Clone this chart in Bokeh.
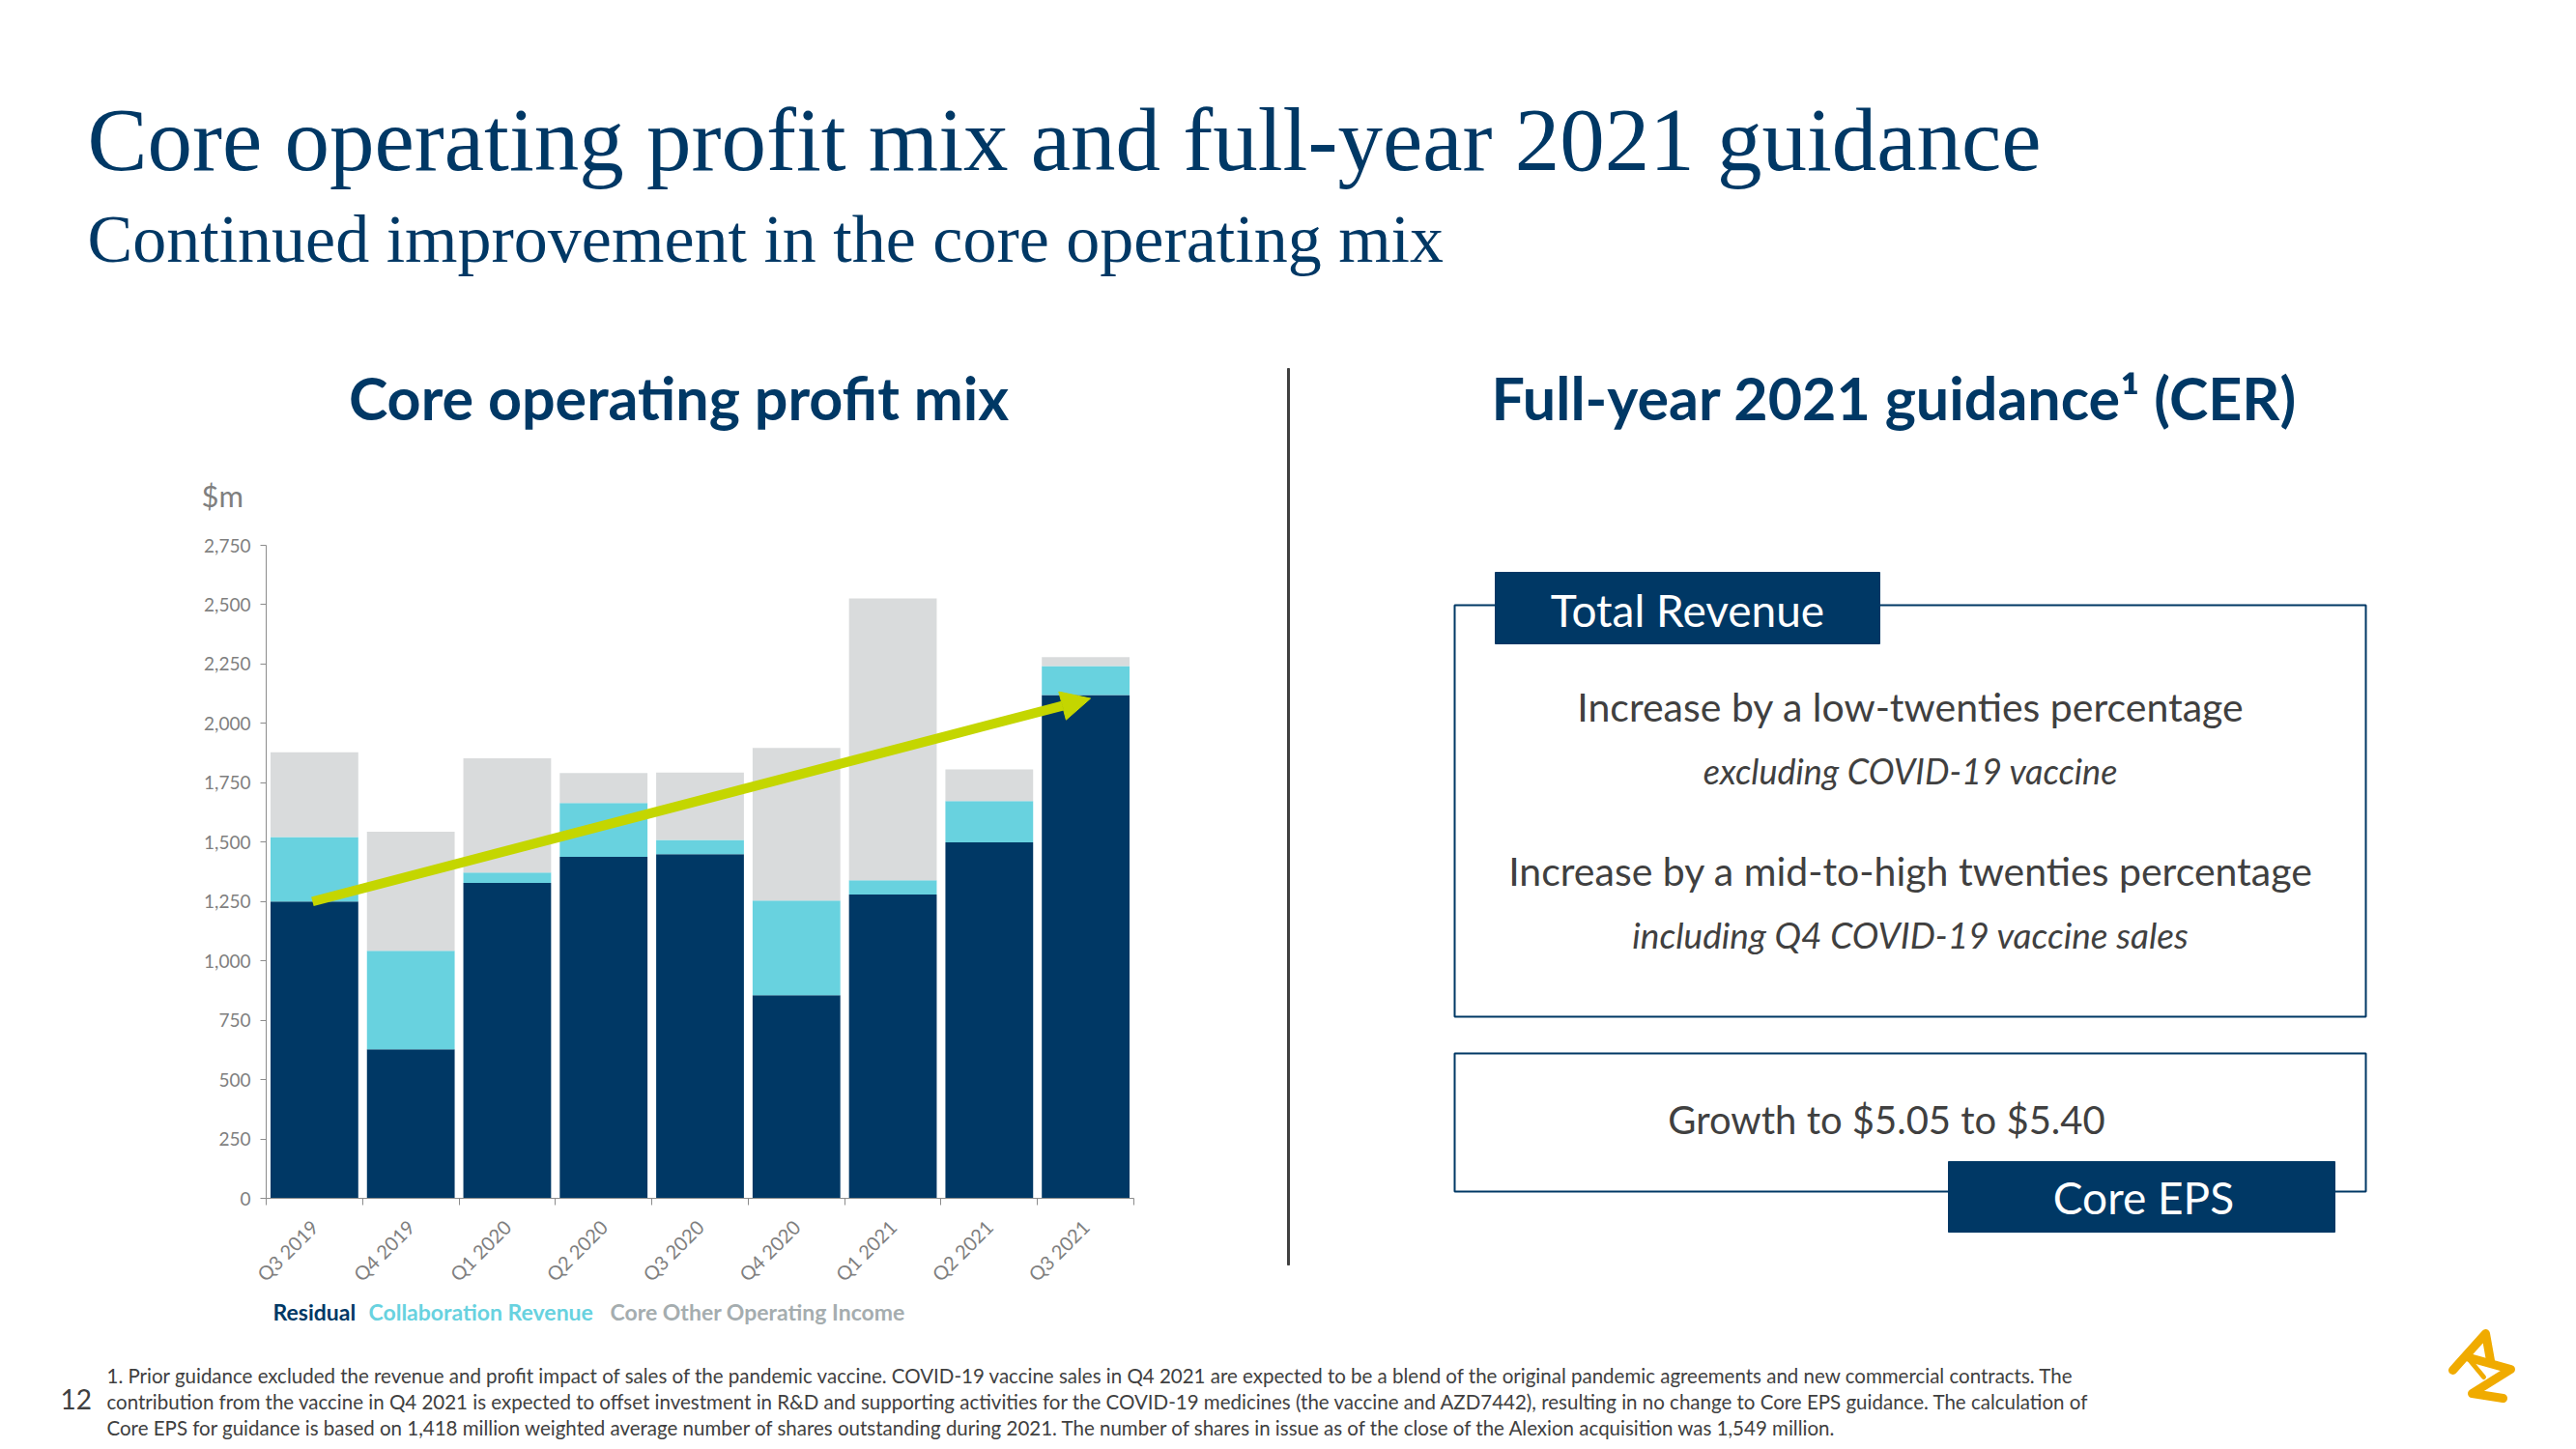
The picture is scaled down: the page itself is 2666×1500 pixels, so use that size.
import math
from bokeh.plotting import figure
from bokeh.models import (Range1d, FixedTicker, NumeralTickFormatter, Arrow, NormalHead,
                          ColumnDataSource, LinearAxis)
from bokeh.core.properties import value
from bokeh.embed import file_html
from bokeh.resources import INLINE

# ---------------- data ----------------
quarters = ["Q3 2019", "Q4 2019", "Q1 2020", "Q2 2020", "Q3 2020",
            "Q4 2020", "Q1 2021", "Q2 2021", "Q3 2021"]
residual = [1250, 627, 1328, 1438, 1449, 855, 1279, 1499, 2119]
collaboration_revenue = [271, 415, 44, 227, 60, 399, 60, 174, 123]
core_other_operating_income = [357, 502, 481, 126, 284, 643, 1187, 133, 37]
series_names = ["Residual", "Collaboration Revenue", "Core Other Operating Income"]
y_ticks = [0, 250, 500, 750, 1000, 1250, 1500, 1750, 2000, 2250, 2500, 2750]
Y_MAX = 2750
# trend arrow (start / end in chart units)
trend_start = (0.48, 1250)
trend_end = (8.55, 2105)

NAVY = "#003865"
CYAN = "#68D2DF"
LGRAY = "#D9DBDC"
LIME = "#C4D600"
AXGRAY = "#8C8C8C"
TXT = "#404040"
GOLD = "#F0AB00"

W, H = 2666, 1500
L, R, T, B = 275, 1173, 564, 1240   # chart plotting area on the page (pixels)
N = len(quarters)

# ranges chosen so that the chart area lands at L..R / T..B while the frame fills the page
x0 = -L * N / (R - L)
x1 = N + (W - R) * N / (R - L)
y0 = -(H - B) * Y_MAX / (B - T)
y1 = Y_MAX + T * Y_MAX / (B - T)

p = figure(width=W, height=H, x_range=Range1d(x0, x1), y_range=Range1d(y0, y1),
           output_backend="svg", toolbar_location=None, min_border=0,
           x_axis_location=None, y_axis_location=None)
p.outline_line_color = None
p.grid.visible = False
p.background_fill_color = "white"
p.border_fill_color = "white"
p.extra_x_ranges = {"pg": Range1d(0, W)}
p.extra_y_ranges = {"pg": Range1d(H, 0)}

centers = [i + 0.5 for i in range(N)]
src = ColumnDataSource(dict(x=centers, residual=residual, collab=collaboration_revenue,
                            other=core_other_operating_income))
p.vbar_stack(["residual", "collab", "other"], x="x", width=0.91, source=src,
             color=[NAVY, CYAN, LGRAY], line_color=None)

xa = LinearAxis(fixed_location=0, bounds=(0, N))
xa.ticker = FixedTicker(ticks=centers, minor_ticks=list(range(N + 1)))
xa.major_label_overrides = {c: q for c, q in zip(centers, quarters)}
xa.major_label_orientation = math.pi / 4
xa.major_tick_line_color = None
xa.minor_tick_line_color = AXGRAY
xa.minor_tick_in = 0
xa.minor_tick_out = 7
xa.axis_line_color = AXGRAY
xa.major_label_text_color = "#7F7F7F"
xa.major_label_text_font = "Lato"
xa.major_label_text_font_size = "20px"
xa.major_label_standoff = 19
p.add_layout(xa, "below")

ya = LinearAxis(fixed_location=0, bounds=(0, Y_MAX))
ya.ticker = FixedTicker(ticks=y_ticks)
ya.formatter = NumeralTickFormatter(format="0,0")
ya.axis_line_color = AXGRAY
ya.major_tick_line_color = AXGRAY
ya.major_tick_in = 0
ya.major_tick_out = 6
ya.minor_tick_line_color = None
ya.major_label_text_color = "#7F7F7F"
ya.major_label_text_font = "Lato"
ya.major_label_text_font_size = "19px"
ya.major_label_standoff = 10
p.add_layout(ya, "left")

p.add_layout(Arrow(x_start=trend_start[0], y_start=trend_start[1],
                   x_end=trend_end[0], y_end=trend_end[1],
                   line_color=LIME, line_width=10,
                   end=NormalHead(fill_color=LIME, line_color=LIME, line_width=1, size=30)))

PG = dict(x_range_name="pg", y_range_name="pg")


def txt(x, y, s, size, color, font="Lato", style="normal", align="left", baseline="middle"):
    p.text(x=[x], y=[y], text=[s], text_font=value(font), text_font_size=value(f"{size}px"),
           text_color=color, text_font_style=style, text_align=align, text_baseline=baseline, **PG)


# ---------------- header ----------------
txt(90, 144, "Core operating profit mix and full-year 2021 guidance", 93, NAVY, font="Liberation Serif")
txt(90, 247, "Continued improvement in the core operating mix", 70, NAVY, font="Liberation Serif")
txt(702, 411, "Core operating profit mix", 61, NAVY, style="bold", align="center")
txt(1960, 411, "Full-year 2021 guidance\u00b9 (CER)", 61, NAVY, style="bold", align="center")
txt(208, 512, "$m", 31, "#7F7F7F")

# divider
p.quad(left=[1332], right=[1334], top=[381], bottom=[1309], color="#404040", **PG)

# ---------------- right panel ----------------
p.quad(left=[1505], right=[2448], top=[626], bottom=[1052], fill_color=None, line_color=NAVY,
       line_width=2, **PG)
p.quad(left=[1547], right=[1945], top=[592], bottom=[666], color=NAVY, **PG)
txt(1746, 631, "Total Revenue", 46, "white", align="center")
txt(1977, 731, "Increase by a low-twenties percentage", 41, TXT, align="center")
txt(1977, 797, "excluding COVID-19 vaccine", 36, TXT, style="italic", align="center")
txt(1977, 901, "Increase by a mid-to-high twenties percentage", 41, TXT, align="center")
txt(1977, 967, "including Q4 COVID-19 vaccine sales", 37, TXT, style="italic", align="center")
p.quad(left=[1505], right=[2448], top=[1090], bottom=[1233], fill_color=None, line_color=NAVY,
       line_width=2, **PG)
p.quad(left=[2016], right=[2416], top=[1202], bottom=[1275], color=NAVY, **PG)
txt(1952, 1158, "Growth to $5.05 to $5.40", 40, TXT, align="center")
txt(2218, 1239, "Core EPS", 46, "white", align="center")

# ---------------- legend (text only) ----------------
txt(282, 1357, series_names[0], 23, NAVY, style="bold")
txt(381, 1357, series_names[1], 23, CYAN, style="bold")
txt(631, 1357, series_names[2], 23, "#A5ADAF", style="bold")

# ---------------- footnote ----------------
txt(62, 1448, "12", 28, TXT)
txt(110, 1423, "1.  Prior guidance excluded the revenue and profit impact of sales of the pandemic vaccine. "
    "COVID-19 vaccine sales in Q4 2021 are expected to be a blend of the original pandemic agreements "
    "and new commercial contracts. The", 20.5, TXT)
txt(110, 1450, "contribution from the vaccine in Q4 2021 is expected to offset investment in R&D and supporting "
    "activities for the COVID-19 medicines (the vaccine and AZD7442), resulting in no change to Core EPS "
    "guidance. The calculation of", 20.5, TXT)
txt(110, 1477, "Core EPS for guidance is based on 1,418 million weighted average number of shares outstanding "
    "during 2021. The number of shares in issue as of the close of the Alexion acquisition was 1,549 million.",
    20.5, TXT)

# logo (approximation)
p.multi_line(xs=[[2538, 2572, 2577], [2555, 2598, 2558, 2590], [2555, 2570]],
             ys=[[1418, 1380, 1408], [1405, 1417, 1442, 1447], [1407, 1425]],
             line_color=GOLD, line_width=[9, 9, 5], line_cap="round", line_join="round", **PG)

open("out.html", "w").write(file_html(p, INLINE))
